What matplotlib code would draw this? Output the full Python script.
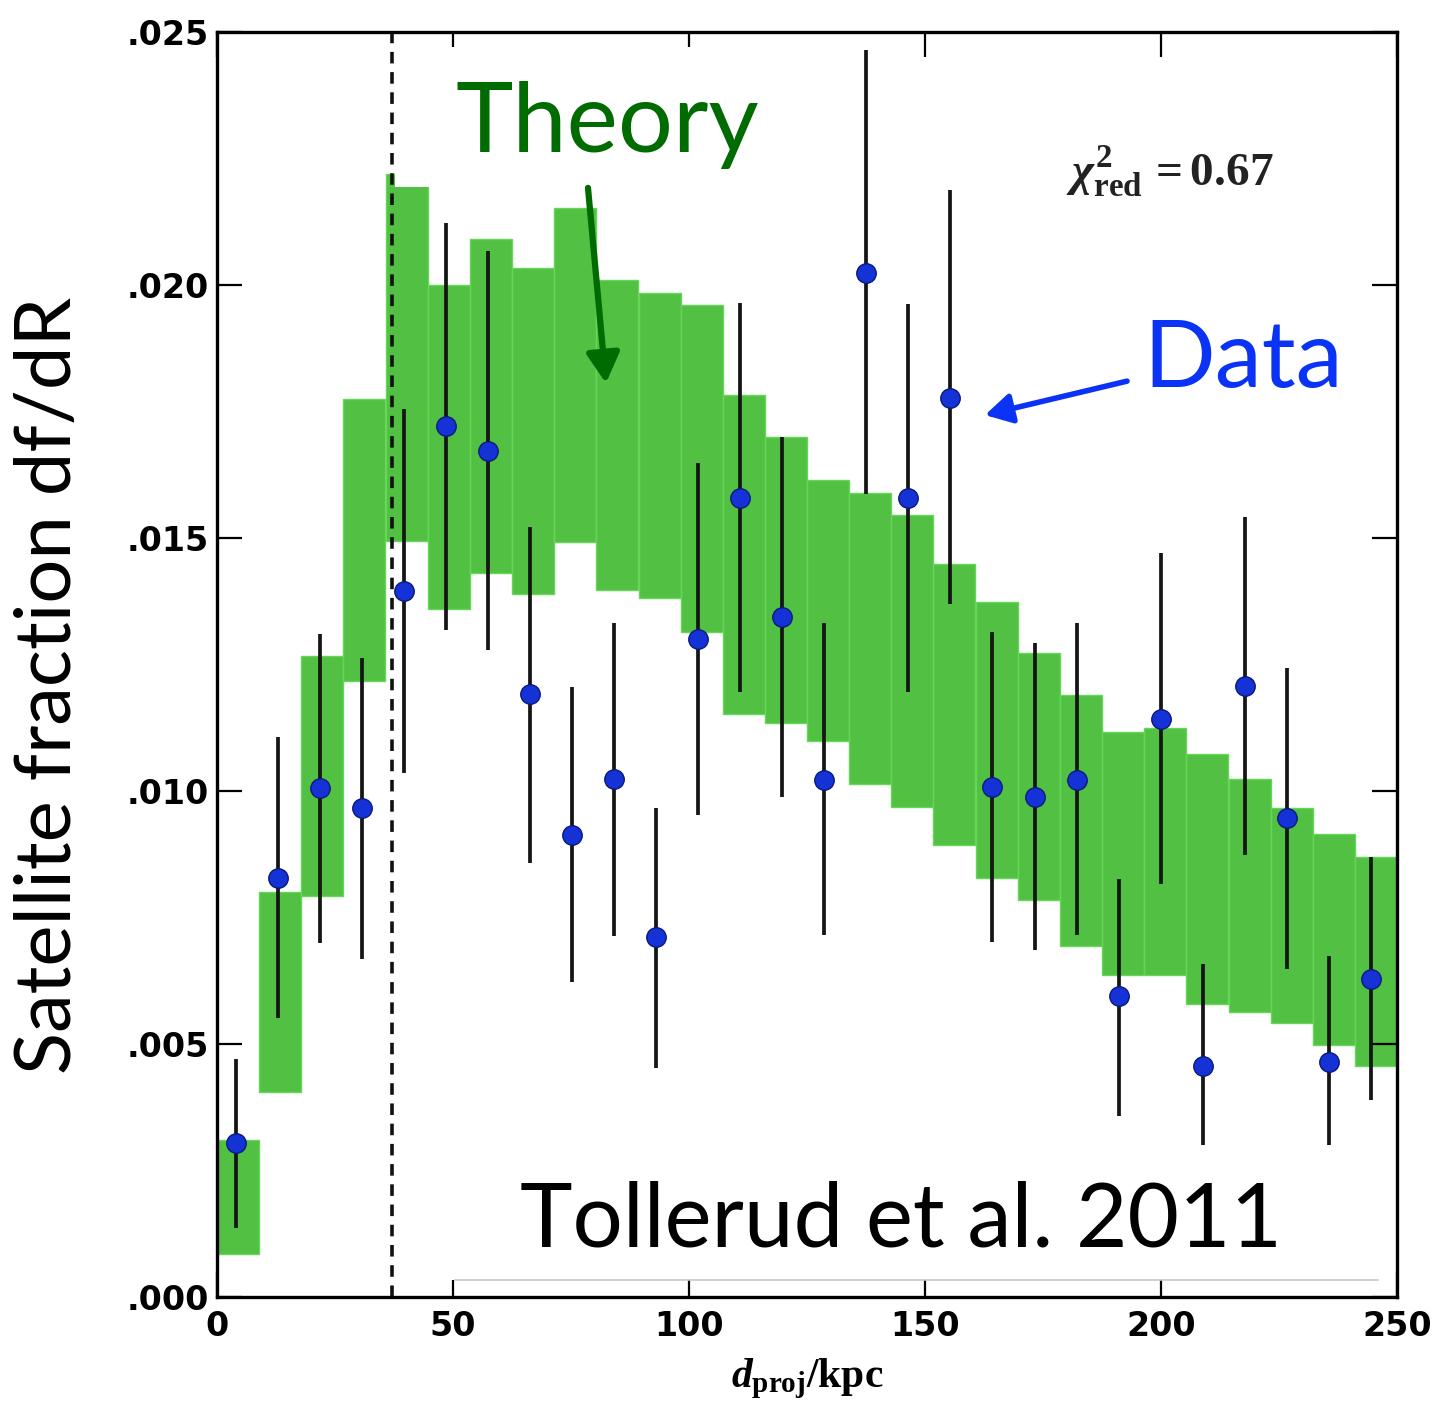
import matplotlib
matplotlib.use("Agg")
import matplotlib.pyplot as plt
from matplotlib.patches import Rectangle

# ---------------- data ----------------
bin_centers = [4.5, 13.4, 22.3, 31.2, 40.2, 49.1, 58.0, 66.9, 75.9, 84.8,
               93.8, 102.7, 111.6, 120.5, 129.5, 138.4, 147.3, 156.2, 165.2, 174.1,
               183.0, 191.9, 200.9, 209.8, 218.8, 227.7, 236.6, 245.5]
bin_width = 8.93

theory_top = [0.0031, 0.0080, 0.01266, 0.01775, 0.0222, 0.0200, 0.0209, 0.02034,
              0.02152, 0.0201, 0.01985, 0.0196, 0.01782, 0.0170, 0.01615, 0.01589,
              0.01545, 0.01449, 0.01374, 0.01273, 0.0119, 0.01117, 0.01125, 0.01074,
              0.01024, 0.00967, 0.00915, 0.0087]
theory_bottom = [0.00085, 0.00405, 0.00793, 0.01217, 0.01494, 0.0136, 0.01431, 0.0139,
                 0.01492, 0.01397, 0.01382, 0.01314, 0.01152, 0.01134, 0.01099, 0.01014,
                 0.00968, 0.00894, 0.00828, 0.00785, 0.00693, 0.00637, 0.00637, 0.0058,
                 0.00563, 0.00541, 0.00498, 0.00457]

data_x = [4.1, 13.0, 21.9, 30.8, 39.7, 48.6, 57.5, 66.4, 75.3, 84.2,
          93.1, 102.0, 110.9, 119.8, 128.7, 137.6, 146.5, 155.4, 164.3, 173.2,
          182.1, 191.0, 199.9, 208.8, 217.7, 226.6, 235.5, 244.4]
data_frac = [0.00304, 0.00828, 0.01006, 0.00967, 0.01395, 0.01721, 0.01672, 0.01192,
             0.00913, 0.01024, 0.00711, 0.01301, 0.0158, 0.01343, 0.01022, 0.02023,
             0.0158, 0.01777, 0.01008, 0.00988, 0.01022, 0.00594, 0.01142, 0.00457,
             0.01208, 0.00946, 0.00465, 0.00629]
data_upper = [0.0047, 0.01107, 0.0131, 0.01263, 0.01754, 0.02123, 0.02067, 0.01522,
              0.01205, 0.01332, 0.00966, 0.01648, 0.01964, 0.0170, 0.01332, 0.02464,
              0.01963, 0.02188, 0.01314, 0.01293, 0.01332, 0.00826, 0.0147, 0.00659,
              0.01542, 0.01243, 0.00674, 0.0087]
data_lower = [0.00136, 0.00551, 0.0070, 0.00668, 0.01036, 0.01318, 0.01279, 0.00858,
              0.00623, 0.00714, 0.00452, 0.00953, 0.01195, 0.00988, 0.00716, 0.01587,
              0.01196, 0.01369, 0.00702, 0.00686, 0.00715, 0.00358, 0.00817, 0.0027,
              0.00874, 0.00649, 0.0027, 0.00389]

vline_x = 37.0

x_ticks = [0, 50, 100, 150, 200, 250]
x_tick_labels = ["0", "50", "100", "150", "200", "250"]
y_ticks = [0.0, 0.005, 0.010, 0.015, 0.020, 0.025]
y_tick_labels = [".000", ".005", ".010", ".015", ".020", ".025"]

# ---------------- style ----------------
plt.rcParams["mathtext.fontset"] = "custom"
plt.rcParams["mathtext.rm"] = "Liberation Serif:bold"
plt.rcParams["mathtext.it"] = "Liberation Serif:bold:italic"
plt.rcParams["mathtext.bf"] = "Liberation Serif:bold"

W, H = 1447, 1402
fig = plt.figure(figsize=(W / 100, H / 100), dpi=100)
ax = fig.add_axes([217 / W, 1 - 1297 / H, (1397 - 217) / W, (1297 - 32) / H])

green = "#52c043"
heights = [t - b for t, b in zip(theory_top, theory_bottom)]
ax.bar(bin_centers, heights, bottom=theory_bottom, width=bin_width,
       color=green, edgecolor="#66d658", linewidth=1.0, zorder=1)

ax.axvline(vline_x, color="#111111", lw=2.6, ls=(0, (3.2, 2.4)), zorder=2)

yerr = [[f - l for f, l in zip(data_frac, data_lower)],
        [u - f for f, u in zip(data_frac, data_upper)]]
ax.errorbar(data_x, data_frac, yerr=yerr, fmt="o", ms=14,
            mfc="#1432d6", mec="#0a1a7a", mew=1.0,
            ecolor="#151515", elinewidth=2.7, capsize=0, zorder=3)

ax.set_xlim(0, 250)
ax.set_ylim(0, 0.025)
ax.set_xticks(x_ticks)
ax.set_xticklabels(x_tick_labels)
ax.set_yticks(y_ticks)
ax.set_yticklabels(y_tick_labels)
ax.tick_params(direction="in", length=18, width=1.6, top=True, right=True,
               labelsize=24, pad=6)
ax.tick_params(axis="x", pad=9)
for lab in ax.get_xticklabels() + ax.get_yticklabels():
    lab.set_fontweight("bold")
    lab.set_family("DejaVu Sans")
for sp in ax.spines.values():
    sp.set_linewidth(2.4)

ax.set_xlabel(r"$d_{\rm proj}{\rm /kpc}$", fontsize=30, labelpad=10)

# white overlay boxes
ax.add_patch(Rectangle((37.7, 0.02194), 92.0, 0.00276, facecolor="white",
                       edgecolor="none", zorder=5, clip_on=False))
ax.add_patch(Rectangle((45.1, 0.00034), 200.8, 0.00266, facecolor="white",
                       edgecolor="none", zorder=5))
ax.plot([50.5, 245.9], [0.00034, 0.00034], color="#c8c8c8", lw=1.2, zorder=5)

# annotations
ax.text(82.6, 0.02263, "Theory", fontsize=70, color="#006b00",
        family="Lato", ha="center", va="baseline", zorder=6)
ax.annotate("", xy=(82.4, 0.01806), xytext=(78.6, 0.02192),
            arrowprops=dict(arrowstyle="-|>,head_width=1.0,head_length=1.8",
                            color="#006b00", lw=4.5, shrinkA=0, shrinkB=0), zorder=6)
ax.text(196.2, 0.01798, "Data", fontsize=68, color="#0a33f5",
        family="Lato", ha="left", va="baseline", zorder=6)
ax.annotate("", xy=(162.7, 0.01743), xytext=(192.8, 0.0181),
            arrowprops=dict(arrowstyle="-|>,head_width=0.9,head_length=1.6",
                            color="#0a33f5", lw=4.0, shrinkA=0, shrinkB=0), zorder=6)
ax.text(64.2, 0.00099, "Tollerud et al. 2011", fontsize=64, color="black",
        family="Lato", ha="left", va="baseline", zorder=6)
ax.text(201.9, 0.02196, r"$\chi^2_{\rm red}\,{\rm =0.67}$", fontsize=34, color="#222222",
        ha="center", va="baseline", zorder=6)

fig.text(50 / W, 1 - 685 / H, "Satellite fraction df/dR", rotation=90,
         fontsize=56, family="Lato", ha="center", va="center")

fig.savefig("out.png", dpi=100, facecolor="white")
